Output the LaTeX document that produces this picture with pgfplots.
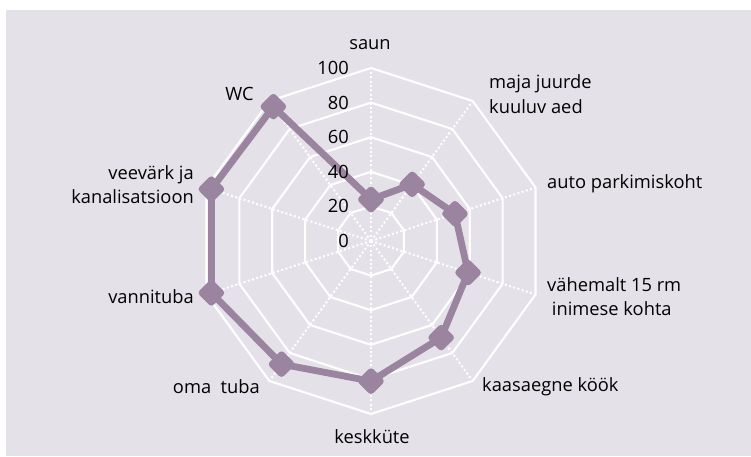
\documentclass[border=0pt]{standalone}
\usepackage{pgfplots}
\pgfplotsset{compat=1.18}
\usepackage{fontspec}
\setmainfont{Open Sans}
\definecolor{bgc}{HTML}{E5E1E8}
\definecolor{linec}{HTML}{9A84A0}
\begin{document}
\begin{tikzpicture}[x=1pt,y=1pt,font=\fontsize{18.3}{24.5}\selectfont]
\fill[white] (0,0) rectangle (751,457);
\fill[bgc] (6,1) rectangle (751,447);
\begin{axis}[at={(371pt,216pt)}, anchor=center, x=1.73pt, y=1.73pt,
  xmin=-110, xmax=110, ymin=-110, ymax=110, hide axis, clip=false]
\pgfplotsinvokeforeach{20,40,60,80,100}{
  \addplot[white, line width=2.1pt, data cs=polar] coordinates
   {(90,#1)(54,#1)(18,#1)(-18,#1)(-54,#1)(-90,#1)(-126,#1)(-162,#1)(162,#1)(126,#1)(90,#1)};
}
\pgfplotsinvokeforeach{90,54,18,-18,-54,-90,-126,-162,162,126}{
  \addplot[white, line width=2.1pt, dash pattern=on 2pt off 2.4pt, data cs=polar] coordinates {(#1,0)(#1,100)};
}
\addplot[linec, line width=6.8pt, line join=round, mark=square*, mark size=6.6pt,
  mark options={rotate=45, solid, draw=none, fill=linec}, data cs=polar] coordinates
  {(90,24)(54,40.5)(18,51)(-18,59)(-54,69)(-90,81)(-126,88)(-162,97)(162,97)(126,96)(90,24)};
\end{axis}
% value labels
\node[anchor=east, inner sep=0pt] at (349,216) {0};
\node[anchor=east, inner sep=0pt] at (349,250.6) {20};
\node[anchor=east, inner sep=0pt] at (349,285.2) {40};
\node[anchor=east, inner sep=0pt] at (349,319.8) {60};
\node[anchor=east, inner sep=0pt] at (349,354.4) {80};
\node[anchor=east, inner sep=0pt] at (349,389) {100};
% category labels
\node[inner sep=0pt] at (370,412) {saun};
\node[anchor=west, align=left, inner sep=0pt] at (489,363.1) {maja juurde\\kuuluv aed};
\node[anchor=west, inner sep=0pt] at (547,273) {auto parkimiskoht};
\node[anchor=west, align=left, inner sep=0pt] at (547,160.3) {vähemalt 15 rm\\\ inimese kohta};
\node[anchor=west, inner sep=0pt] at (482,70) {kaasaegne köök};
\node[inner sep=0pt] at (372,20.3) {keskküte};
\node[anchor=east, inner sep=0pt] at (260,70) {oma\ \ tuba};
\node[anchor=east, inner sep=0pt] at (194,160.3) {vannituba};
\node[anchor=east, align=right, inner sep=0pt] at (194,272.5) {veevärk ja\\kanalisatsioon};
\node[inner sep=0pt] at (239.5,363) {WC};
\pgfresetboundingbox
\path[use as bounding box] (0,0) rectangle (751,457);
\end{tikzpicture}
\end{document}
